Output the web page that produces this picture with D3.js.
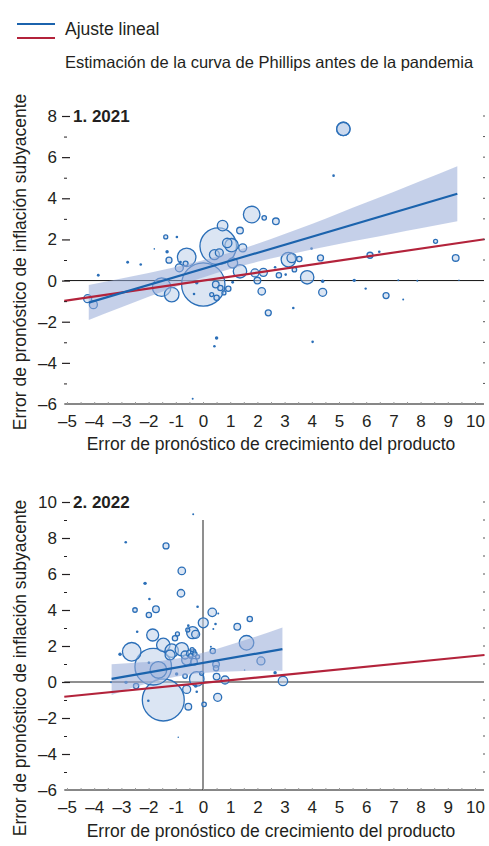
<!doctype html>
<html lang="es">
  <head>
    <meta charset="UTF-8" />
    <title>Curva de Phillips</title>
    <script src="https://d3js.org/d3.v7.min.js"></script>
    <style>
      body {
        margin: 0;
        background: #fff;
      }
      svg text {
        font-family: "Liberation Sans", Arial, sans-serif;
        fill: #231f20;
      }
    </style>
  </head>
  <body>
    <svg width="489" height="846"></svg>

    <script>
      // ---- data ----
      const xTickValues = [-5, -4, -3, -2, -1, 0, 1, 2, 3, 4, 5, 6, 7, 8, 9, 10];
      const xTickLabels = ["–5", "–4", "–3", "–2", "-1", "0", "1", "2", "3", "4", "5", "6", "7", "8", "9", "10"];

      // panel 1: 2021  (x, y, weight)
      const p1X = [-4.24, -4.03, -3.85, -2.77, -2.29, -1.79, -1.37, -0.96, -1.32, -1.25, -1.52, -1.15, -0.6, -0.87, -0.64, -0.83,
        0.01, 0.56, 0.72, 0.6, 0.89, 1.05, 1.36, 1.46, 1.09, 1.36, 0.47, 0.64, 0.5, 0.77, 0.93, 0.32, -0.23, -0.33, 1.09,
        1.79, 2.25, 1.91, 2.22, 2.0, 2.16, 2.4, 0.5, 0.42, -0.38, 0.42, 5.16, 5.16, 4.8, 2.68, 3.14, 3.26, 3.54, 3.99, 4.32,
        3.83, 4.4, 4.4, 3.36, 3.04, 2.79, 2.65, 3.32, 4.03, 5.56, 5.98, 6.14, 6.48, 6.73, 7.18, 7.36, 7.88, 8.55, 9.29, 9.41];
      const p1Y = [-0.88, -1.17, 0.26, 0.89, 0.78, 1.54, 2.12, 2.12, 1.4, 0.99, -0.32, -0.68, 1.13, 0.62, 0.83, 0.9,
        -0.19, 1.67, 2.67, 1.35, 1.83, 1.72, 2.43, 1.59, 0.86, 0.45, -0.19, -0.36, -0.84, -0.6, -0.4, -0.68, -0.11, -0.65, -0.08,
        3.21, 3.05, 0.37, 0.4, 0.0, -0.52, -1.57, -2.79, -3.19, -5.74, 1.26, 7.37, 7.37, 5.1, 2.88, 1.02, 1.1, 1.05, 1.56, 1.1,
        0.16, -0.03, -0.57, 0.53, 0.29, 0.26, 0.65, -1.33, -2.98, 0.01, -0.39, 1.23, 1.4, -0.73, 0.01, -0.92, -0.01, 1.91, 1.1, 0.01];
      const p1W = [16, 16, 2, 2, 1.7, 0.6, 4, 1.7, 3, 9, 86, 53, 86, 16, 6, 2,
        470, 335, 28, 16, 22, 45, 11, 16, 25, 45, 11, 7, 7, 4, 7, 4, 3, 1.7, 2,
        69, 5, 16, 16, 11, 14, 9, 3, 1.7, 1, 25, 45, 45, 1.7, 11, 53, 22, 7, 1.7, 9,
        45, 3, 16, 5, 1.7, 7, 1.7, 1.7, 1.7, 3, 1.4, 9, 1.7, 9, 1, 1, 1, 4, 11, 0.6];

      const p1FitX = [-4.2, 9.35];
      const p1FitY = [-1.07, 4.22];
      const p1BandX = [-4.2, -3, -2, -1, 0, 1, 2, 3, 4, 5, 6, 7, 8, 9.35];
      const p1BandLo = [-1.92, -1.3, -0.79, -0.3, 0.15, 0.56, 0.91, 1.22, 1.51, 1.78, 2.03, 2.29, 2.54, 2.88];
      const p1BandHi = [-0.22, 0.1, 0.37, 0.66, 0.99, 1.36, 1.79, 2.26, 2.75, 3.27, 3.79, 4.31, 4.84, 5.56];
      const p1PreX = [-5.1, 10.35];
      const p1PreY = [-0.99, 2.01];

      // panel 2: 2022
      const p2X = [-2.84, -1.36, -0.36, -0.78, -0.81, -2.13, -1.97, -2.5, -1.73, -1.99, -0.2, 0.34, 0.56, 0.01, -2.42, -1.85,
        -0.94, -1.03, -0.54, -0.38, -0.27, -0.56, 0.46, 0.38, -2.62, -3.05, -1.46, -1.15, -0.78, -1.21, -0.66, -0.48, -0.36,
        -0.6, -0.33, 0.36, -1.83, -1.64, -1.46, -1.99, -0.23, 0.48, 0.48, 0.5, 0.81, -0.66, -0.97, -0.6, -0.27, -0.23, -0.54,
        0.04, 0.54, -2.01, -2.83, -2.46, -3.38, -0.05, 1.6, 1.26, 1.72, 2.13, 2.65, 2.94, -0.91, 0.29, 1.53,
        -0.45, -0.3, -0.4, -0.2];
      const p2Y = [7.76, 7.56, 9.32, 6.17, 4.93, 5.48, 4.61, 4.0, 4.04, 3.72, 4.18, 3.87, 3.81, 3.29, 2.79, 2.61,
        2.67, 2.43, 3.13, 2.74, 2.65, 2.89, 3.22, 2.95, 1.68, 1.54, 2.06, 1.74, 1.82, 1.5, 1.5, 1.59, 1.68,
        1.22, 1.13, 1.72, 0.85, 0.67, -1.0, 1.07, 0.17, 0.98, 0.76, 0.3, 0.11, 0.33, 0.45, -0.41, -0.22, -0.54, -1.37,
        -1.24, -0.85, -1.04, -0.02, -0.22, -0.02, 0.48, 2.18, 3.07, 3.5, 1.17, 0.52, 0.06, -3.07, 1.96, 0.67,
        1.45, 1.55, 1.8, 1.4];
      const p2W = [1.7, 9, 1, 14, 14, 3, 1.7, 5, 11, 7, 1.7, 18, 1, 25, 1.7, 36,
        4, 7, 1.7, 36, 16, 4, 1.7, 1, 86, 3, 45, 45, 45, 25, 16, 11, 7,
        25, 11, 7, 335, 69, 440, 1.7, 53, 11, 7, 11, 16, 5, 3, 16, 3, 1.7, 11,
        5, 16, 1.7, 3, 7, 1, 4, 53, 11, 7, 16, 3, 22, 0.6, 1, 0.6,
        5, 5, 4, 4];

      const p2FitX = [-3.36, 2.92];
      const p2FitY = [0.17, 1.83];
      const p2BandX = [-3.36, -2.5, -1.5, -0.5, 0.5, 1.5, 2.92];
      const p2BandLo = [-0.72, -0.28, 0.14, 0.42, 0.55, 0.61, 0.63];
      const p2BandHi = [0.98, 1.07, 1.18, 1.43, 1.83, 2.3, 3.03];
      const p2PreX = [-5.1, 10.35];
      const p2PreY = [-0.82, 1.5];

      // ---- drawing ----
      const svg = d3.select("svg");
      const blue = "#1b63ad";
      const red = "#b3233b";

      // legend
      const leg = svg.append("g");
      leg.append("line").attr("x1", 17).attr("x2", 55).attr("y1", 24).attr("y2", 24)
        .attr("stroke", blue).attr("stroke-width", 2);
      leg.append("line").attr("x1", 17).attr("x2", 55).attr("y1", 38).attr("y2", 38)
        .attr("stroke", red).attr("stroke-width", 2);
      leg.append("text").attr("x", 65).attr("y", 35).style("font-size", "17.5px").text("Ajuste lineal");
      leg.append("text").attr("x", 65).attr("y", 68).style("font-size", "16.5px")
        .text("Estimación de la curva de Phillips antes de la pandemia");

      const r = d3.scaleSqrt().domain([0, 100]).range([0, 10]);

      function drawPanel(cfg) {
        const x = d3.scaleLinear().domain([-5, 10]).range([67, 475]);
        const y = d3.scaleLinear().domain([-6, cfg.yMax]).range([cfg.yBottom, cfg.yTop]);
        const g = svg.append("g");

        // zero lines
        if (cfg.cross) {
          g.append("line").attr("x1", x(0)).attr("x2", x(0))
            .attr("y1", y(cfg.vTop)).attr("y2", y(-6))
            .attr("stroke", "#8f8f8f").attr("stroke-width", 2);
          g.append("line").attr("x1", x(-5.1)).attr("x2", x(10.33))
            .attr("y1", y(0)).attr("y2", y(0))
            .attr("stroke", "#8f8f8f").attr("stroke-width", 2);
        } else {
          g.append("line").attr("x1", x(-5.1)).attr("x2", x(10.33))
            .attr("y1", y(0)).attr("y2", y(0))
            .attr("stroke", "#111").attr("stroke-width", 1);
        }

        // bubbles, biggest first
        const pts = cfg.xs.map((v, i) => ({ x: v, y: cfg.ys[i], w: cfg.ws[i] }))
          .sort((a, b) => b.w - a.w);
        g.selectAll("circle.pt")
          .data(pts)
          .enter()
          .append("circle")
          .attr("class", "pt")
          .attr("cx", (d) => x(d.x))
          .attr("cy", (d) => y(d.y))
          .attr("r", (d) => r(d.w))
          .attr("fill", (d) => (d.w <= 3 ? "#2b6fb8" : "rgba(190,207,234,0.55)"))
          .attr("stroke", "#2b6fb8")
          .attr("stroke-width", (d) => (d.w <= 3 ? 0 : 1.3));

        // confidence band
        const band = cfg.bandX.map((v, i) => ({ x: v, lo: cfg.bandLo[i], hi: cfg.bandHi[i] }));
        g.append("path")
          .datum(band)
          .attr("fill", "rgba(150,170,215,0.55)")
          .attr("d", d3.area().curve(d3.curveMonotoneX)
            .x((d) => x(d.x)).y0((d) => y(d.lo)).y1((d) => y(d.hi)));

        const line = d3.line().x((d) => x(d[0])).y((d) => y(d[1]));
        g.append("path").datum(d3.zip(cfg.preX, cfg.preY))
          .attr("fill", "none").attr("stroke", red).attr("stroke-width", 2.2).attr("d", line);
        g.append("path").datum(d3.zip(cfg.fitX, cfg.fitY))
          .attr("fill", "none").attr("stroke", blue).attr("stroke-width", 2.2).attr("d", line);

        // x axis
        g.append("line").attr("x1", x(-5.1)).attr("x2", x(10.33))
          .attr("y1", y(-6)).attr("y2", y(-6))
          .attr("stroke", "#111").attr("stroke-width", 1.2);
        const minor = g.append("g").attr("transform", `translate(0,${y(-6)})`)
          .call(d3.axisBottom(x).tickValues(d3.range(-5, 10.01, 0.5)).tickSize(-2).tickFormat(""));
        minor.select(".domain").remove();
        minor.selectAll("line").attr("stroke", "#999");
        const xa = g.append("g").attr("transform", `translate(0,${y(-6)})`)
          .call(d3.axisBottom(x).tickValues(xTickValues).tickSize(0).tickPadding(11)
            .tickFormat((d, i) => xTickLabels[i]));
        xa.select(".domain").remove();
        xa.selectAll("text").style("font-size", "17px").attr("fill", "#231f20");

        // y axis
        const yMajor = d3.range(-6, cfg.yMax + 0.1, 2);
        const yMinor = d3.range(-5, cfg.yMax, 2);
        const ya = g.append("g").attr("transform", "translate(70,0)")
          .call(d3.axisLeft(y).tickValues(yMajor).tickSize(8).tickPadding(5)
            .tickFormat((d) => (d < 0 ? "–" + Math.abs(d) : d)));
        ya.select(".domain").remove();
        ya.selectAll("line").attr("stroke", "#231f20").attr("stroke-width", 1.2);
        ya.selectAll("text").style("font-size", "17px").attr("fill", "#231f20");
        ya.selectAll(".tick").filter((d) => d === -6).select("line").remove();
        const ym = g.append("g").attr("transform", "translate(67,0)")
          .call(d3.axisLeft(y).tickValues(yMinor).tickSize(3).tickFormat(""));
        ym.select(".domain").remove();
        ym.selectAll("line").attr("stroke", "#231f20");

        // right-hand dots
        const rightVals = d3.range(-5, cfg.yMax + 0.1, 1).filter((v) => v !== 0);
        g.selectAll("line.rdot").data(rightVals).enter().append("line")
          .attr("class", "rdot")
          .attr("x1", 483).attr("x2", 485)
          .attr("y1", (d) => y(d)).attr("y2", (d) => y(d))
          .attr("stroke", "#555").attr("stroke-width", 1);

        // panel title
        g.append("text").attr("x", 73).attr("y", y(cfg.yMax)).attr("dy", "0.35em")
          .style("font-size", "17px").style("font-weight", "bold").text(cfg.title);

        // axis titles
        g.append("text").attr("x", 271).attr("y", cfg.xTitleY)
          .attr("text-anchor", "middle").style("font-size", "17.5px")
          .text("Error de pronóstico de crecimiento del producto");
        g.append("text")
          .attr("transform", `translate(26,${cfg.yTitleMid}) rotate(-90)`)
          .attr("text-anchor", "middle").style("font-size", "17.5px")
          .text("Error de pronóstico de inflación subyacente");
      }

      drawPanel({
        title: "1. 2021", yMax: 8, yTop: 116, yBottom: 404, cross: false,
        xs: p1X, ys: p1Y, ws: p1W,
        fitX: p1FitX, fitY: p1FitY, preX: p1PreX, preY: p1PreY,
        bandX: p1BandX, bandLo: p1BandLo, bandHi: p1BandHi,
        xTitleY: 450, yTitleMid: 262,
      });
      drawPanel({
        title: "2. 2022", yMax: 10, yTop: 502, yBottom: 790, cross: true, vTop: 9,
        xs: p2X, ys: p2Y, ws: p2W,
        fitX: p2FitX, fitY: p2FitY, preX: p2PreX, preY: p2PreY,
        bandX: p2BandX, bandLo: p2BandLo, bandHi: p2BandHi,
        xTitleY: 837, yTitleMid: 668,
      });
    </script>
  </body>
</html>
